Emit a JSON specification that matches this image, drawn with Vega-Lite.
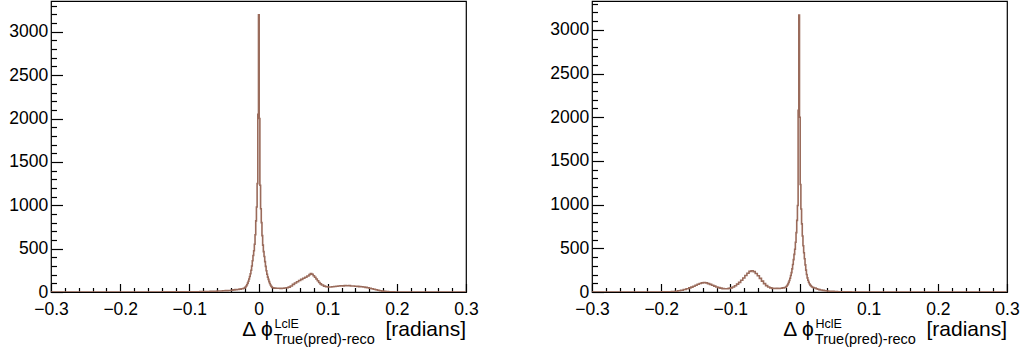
{
  "$schema": "https://vega.github.io/schema/vega-lite/v6.json",
  "usermeta": {"embedOptions": {"actions": false}},
  "autosize": {"type": "pad"},
  "padding": {"left": 8, "top": 0, "right": 0, "bottom": 0},
  "background": "white",
  "config": {
    "view": {"stroke": "black", "strokeWidth": 1.2},
    "font": "Liberation Sans",
    "text": {"font": "Liberation Sans", "color": "black"},
    "axis": {"domain": false, "grid": false, "title": null, "tickColor": "black", "tickWidth": 1.2,
             "labelFont": "Liberation Sans", "labelFontSize": 17.5, "labelColor": "black",
             "labelOverlap": false, "labelFlush": false, "labelBound": false},
    "axisX": {"labelPadding": 16.5},
    "axisY": {"labelPadding": 14.8}
  },
  "datasets": {
    "lcle": [
      {"x": -0.3, "n": 0}, {"x": -0.14, "n": 1}, {"x": -0.1, "n": 2}, {"x": -0.09, "n": 3}, {"x": -0.085, "n": 4},
      {"x": -0.08, "n": 5}, {"x": -0.075, "n": 6}, {"x": -0.07, "n": 7}, {"x": -0.065, "n": 9}, {"x": -0.06, "n": 11},
      {"x": -0.056, "n": 12}, {"x": -0.052, "n": 14}, {"x": -0.048, "n": 16}, {"x": -0.044, "n": 18}, {"x": -0.04, "n": 21},
      {"x": -0.037, "n": 24}, {"x": -0.034, "n": 27}, {"x": -0.031, "n": 29}, {"x": -0.028, "n": 33}, {"x": -0.025, "n": 38},
      {"x": -0.022, "n": 44}, {"x": -0.02, "n": 50}, {"x": -0.019, "n": 58}, {"x": -0.018, "n": 70}, {"x": -0.017, "n": 84},
      {"x": -0.016, "n": 102}, {"x": -0.015, "n": 124}, {"x": -0.014, "n": 150}, {"x": -0.013, "n": 178}, {"x": -0.012, "n": 210},
      {"x": -0.011, "n": 250}, {"x": -0.01, "n": 300}, {"x": -0.009, "n": 360}, {"x": -0.008, "n": 420}, {"x": -0.007, "n": 475},
      {"x": -0.006, "n": 550}, {"x": -0.005, "n": 660}, {"x": -0.004, "n": 820}, {"x": -0.003, "n": 980}, {"x": -0.002, "n": 1250},
      {"x": -0.001, "n": 2050}, {"x": 0, "n": 3195}, {"x": 0.001, "n": 2000}, {"x": 0.002, "n": 1230}, {"x": 0.003, "n": 960},
      {"x": 0.004, "n": 800}, {"x": 0.005, "n": 650}, {"x": 0.006, "n": 540}, {"x": 0.007, "n": 465}, {"x": 0.008, "n": 410},
      {"x": 0.009, "n": 350}, {"x": 0.01, "n": 295}, {"x": 0.011, "n": 245}, {"x": 0.012, "n": 205}, {"x": 0.013, "n": 172},
      {"x": 0.014, "n": 145}, {"x": 0.015, "n": 120}, {"x": 0.016, "n": 98}, {"x": 0.017, "n": 80}, {"x": 0.018, "n": 66},
      {"x": 0.019, "n": 56}, {"x": 0.02, "n": 49}, {"x": 0.022, "n": 45}, {"x": 0.025, "n": 43}, {"x": 0.028, "n": 44},
      {"x": 0.031, "n": 42}, {"x": 0.034, "n": 44}, {"x": 0.037, "n": 46}, {"x": 0.04, "n": 49}, {"x": 0.043, "n": 56},
      {"x": 0.046, "n": 70}, {"x": 0.049, "n": 88}, {"x": 0.052, "n": 104}, {"x": 0.055, "n": 118}, {"x": 0.058, "n": 132},
      {"x": 0.061, "n": 146}, {"x": 0.064, "n": 158}, {"x": 0.067, "n": 170}, {"x": 0.07, "n": 184}, {"x": 0.073, "n": 200},
      {"x": 0.075, "n": 212}, {"x": 0.077, "n": 204}, {"x": 0.079, "n": 188}, {"x": 0.081, "n": 170}, {"x": 0.083, "n": 150},
      {"x": 0.085, "n": 130}, {"x": 0.087, "n": 110}, {"x": 0.089, "n": 94}, {"x": 0.091, "n": 80}, {"x": 0.094, "n": 68},
      {"x": 0.097, "n": 60}, {"x": 0.1, "n": 57}, {"x": 0.103, "n": 58}, {"x": 0.106, "n": 60}, {"x": 0.109, "n": 63},
      {"x": 0.112, "n": 66}, {"x": 0.115, "n": 69}, {"x": 0.118, "n": 72}, {"x": 0.121, "n": 71}, {"x": 0.124, "n": 74},
      {"x": 0.127, "n": 72}, {"x": 0.13, "n": 73}, {"x": 0.133, "n": 70}, {"x": 0.136, "n": 70}, {"x": 0.139, "n": 67},
      {"x": 0.142, "n": 65}, {"x": 0.145, "n": 62}, {"x": 0.148, "n": 60}, {"x": 0.151, "n": 57}, {"x": 0.154, "n": 53},
      {"x": 0.157, "n": 49}, {"x": 0.16, "n": 44}, {"x": 0.163, "n": 38}, {"x": 0.166, "n": 32}, {"x": 0.169, "n": 26},
      {"x": 0.172, "n": 20}, {"x": 0.175, "n": 15}, {"x": 0.178, "n": 10}, {"x": 0.181, "n": 7}, {"x": 0.184, "n": 5},
      {"x": 0.188, "n": 3}, {"x": 0.192, "n": 1}, {"x": 0.197, "n": 0}, {"x": 0.3, "n": 0}
    ],
    "hcle": [
      {"x": -0.3, "n": 0}, {"x": -0.2, "n": 1}, {"x": -0.195, "n": 2}, {"x": -0.19, "n": 3}, {"x": -0.185, "n": 6},
      {"x": -0.18, "n": 9}, {"x": -0.176, "n": 14}, {"x": -0.172, "n": 20}, {"x": -0.168, "n": 28}, {"x": -0.164, "n": 38},
      {"x": -0.16, "n": 47}, {"x": -0.157, "n": 56}, {"x": -0.154, "n": 66}, {"x": -0.151, "n": 78}, {"x": -0.148, "n": 88},
      {"x": -0.145, "n": 97}, {"x": -0.142, "n": 104}, {"x": -0.139, "n": 108}, {"x": -0.136, "n": 104}, {"x": -0.133, "n": 96},
      {"x": -0.13, "n": 87}, {"x": -0.127, "n": 77}, {"x": -0.124, "n": 67}, {"x": -0.121, "n": 58}, {"x": -0.118, "n": 50},
      {"x": -0.115, "n": 44}, {"x": -0.112, "n": 39}, {"x": -0.109, "n": 37}, {"x": -0.106, "n": 38}, {"x": -0.103, "n": 41},
      {"x": -0.1, "n": 47}, {"x": -0.097, "n": 58}, {"x": -0.094, "n": 72}, {"x": -0.091, "n": 90}, {"x": -0.088, "n": 110},
      {"x": -0.085, "n": 134}, {"x": -0.082, "n": 160}, {"x": -0.079, "n": 188}, {"x": -0.076, "n": 214}, {"x": -0.073, "n": 236},
      {"x": -0.07, "n": 244}, {"x": -0.067, "n": 233}, {"x": -0.064, "n": 212}, {"x": -0.061, "n": 186}, {"x": -0.058, "n": 156},
      {"x": -0.055, "n": 125}, {"x": -0.052, "n": 96}, {"x": -0.049, "n": 73}, {"x": -0.046, "n": 57}, {"x": -0.043, "n": 47},
      {"x": -0.04, "n": 42}, {"x": -0.037, "n": 40}, {"x": -0.034, "n": 41}, {"x": -0.031, "n": 40}, {"x": -0.028, "n": 43},
      {"x": -0.025, "n": 47}, {"x": -0.022, "n": 52}, {"x": -0.02, "n": 58}, {"x": -0.019, "n": 66}, {"x": -0.018, "n": 78},
      {"x": -0.017, "n": 92}, {"x": -0.016, "n": 110}, {"x": -0.015, "n": 132}, {"x": -0.014, "n": 158}, {"x": -0.013, "n": 188},
      {"x": -0.012, "n": 222}, {"x": -0.011, "n": 265}, {"x": -0.01, "n": 315}, {"x": -0.009, "n": 370}, {"x": -0.008, "n": 430},
      {"x": -0.007, "n": 490}, {"x": -0.006, "n": 570}, {"x": -0.005, "n": 680}, {"x": -0.004, "n": 820}, {"x": -0.003, "n": 990},
      {"x": -0.002, "n": 2080}, {"x": -0.001, "n": 3170}, {"x": 0, "n": 2000}, {"x": 0.001, "n": 1230}, {"x": 0.002, "n": 950},
      {"x": 0.003, "n": 780}, {"x": 0.004, "n": 640}, {"x": 0.005, "n": 530}, {"x": 0.006, "n": 450}, {"x": 0.007, "n": 380},
      {"x": 0.008, "n": 310}, {"x": 0.009, "n": 250}, {"x": 0.01, "n": 200}, {"x": 0.011, "n": 162}, {"x": 0.012, "n": 134},
      {"x": 0.013, "n": 112}, {"x": 0.014, "n": 95}, {"x": 0.015, "n": 82}, {"x": 0.016, "n": 71}, {"x": 0.017, "n": 63},
      {"x": 0.018, "n": 57}, {"x": 0.019, "n": 52}, {"x": 0.021, "n": 45}, {"x": 0.024, "n": 38}, {"x": 0.026, "n": 32},
      {"x": 0.028, "n": 27}, {"x": 0.03, "n": 23}, {"x": 0.033, "n": 19}, {"x": 0.036, "n": 15}, {"x": 0.039, "n": 12},
      {"x": 0.042, "n": 9}, {"x": 0.046, "n": 7}, {"x": 0.05, "n": 5}, {"x": 0.055, "n": 3}, {"x": 0.06, "n": 2},
      {"x": 0.066, "n": 1}, {"x": 0.075, "n": 0}, {"x": 0.3, "n": 0}
    ]
  },
  "spacing": 126,
  "bounds": "flush",
  "hconcat": [
    {
      "width": 415,
      "height": 291,
      "resolve": {"axis": {"x": "independent", "y": "independent"}},
      "layer": [
        {
          "data": {"name": "lcle"},
          "mark": {"type": "line", "interpolate": "step-after", "color": "#9a6b5b", "strokeWidth": 1.6, "clip": true},
          "encoding": {
            "x": {"field": "x", "type": "quantitative",
              "scale": {"domain": [-0.3, 0.3], "nice": false, "zero": false},
              "axis": {"orient": "bottom", "values": [-0.3,-0.2,-0.1,0,0.1,0.2,0.3], "format": ".1~f", "tickSize": -8.5}},
            "y": {"field": "n", "type": "quantitative",
              "scale": {"domain": [0, 3355], "nice": false},
              "axis": {"orient": "left", "values": [0,500,1000,1500,2000,2500,3000], "format": "d", "tickSize": -11.5}}
          }
        },
        {
          "data": {"name": "lcle"},
          "mark": {"type": "line", "interpolate": "step-after", "strokeOpacity": 0, "clip": true},
          "encoding": {
            "x": {"field": "x", "type": "quantitative",
              "axis": {"orient": "bottom", "labels": false, "tickSize": -4.5,
                "values": [-0.28,-0.26,-0.24,-0.22,-0.18,-0.16,-0.14,-0.12,-0.08,-0.06,-0.04,-0.02,0.02,0.04,0.06,0.08,0.12,0.14,0.16,0.18,0.22,0.24,0.26,0.28]}},
            "y": {"field": "n", "type": "quantitative",
              "axis": {"orient": "left", "labels": false, "tickSize": -5.5,
                "values": [100,200,300,400,600,700,800,900,1100,1200,1300,1400,1600,1700,1800,1900,2100,2200,2300,2400,2600,2700,2800,2900,3100,3200,3300]}}
          }
        },
        {
          "data": {"values": [{}]},
          "mark": {"type": "text", "text": "Δ ϕ", "align": "left", "baseline": "alphabetic", "fontSize": 21, "dy": 44},
          "encoding": {"x": {"datum": -0.0235, "axis": null}, "y": {"datum": 0, "axis": null}}
        },
        {
          "data": {"values": [{}]},
          "mark": {"type": "text", "text": "LclE", "align": "left", "baseline": "alphabetic", "fontSize": 12.5, "dy": 36.4},
          "encoding": {"x": {"datum": 0.0232, "axis": null}, "y": {"datum": 0, "axis": null}}
        },
        {
          "data": {"values": [{}]},
          "mark": {"type": "text", "text": "True(pred)-reco", "align": "left", "baseline": "alphabetic", "fontSize": 14.5, "dy": 52.4},
          "encoding": {"x": {"datum": 0.0222, "axis": null}, "y": {"datum": 0, "axis": null}}
        },
        {
          "data": {"values": [{}]},
          "mark": {"type": "text", "text": "[radians]", "align": "right", "baseline": "alphabetic", "fontSize": 21, "dy": 44},
          "encoding": {"x": {"datum": 0.3, "axis": null}, "y": {"datum": 0, "axis": null}}
        }
      ]
    },
    {
      "width": 415,
      "height": 291,
      "resolve": {"axis": {"x": "independent", "y": "independent"}},
      "layer": [
        {
          "data": {"name": "hcle"},
          "mark": {"type": "line", "interpolate": "step-after", "color": "#9a6b5b", "strokeWidth": 1.6, "clip": true},
          "encoding": {
            "x": {"field": "x", "type": "quantitative",
              "scale": {"domain": [-0.3, 0.3], "nice": false, "zero": false},
              "axis": {"orient": "bottom", "values": [-0.3,-0.2,-0.1,0,0.1,0.2,0.3], "format": ".1~f", "tickSize": -8.5}},
            "y": {"field": "n", "type": "quantitative",
              "scale": {"domain": [0, 3330], "nice": false},
              "axis": {"orient": "left", "values": [0,500,1000,1500,2000,2500,3000], "format": "d", "tickSize": -11.5}}
          }
        },
        {
          "data": {"name": "hcle"},
          "mark": {"type": "line", "interpolate": "step-after", "strokeOpacity": 0, "clip": true},
          "encoding": {
            "x": {"field": "x", "type": "quantitative",
              "axis": {"orient": "bottom", "labels": false, "tickSize": -4.5,
                "values": [-0.28,-0.26,-0.24,-0.22,-0.18,-0.16,-0.14,-0.12,-0.08,-0.06,-0.04,-0.02,0.02,0.04,0.06,0.08,0.12,0.14,0.16,0.18,0.22,0.24,0.26,0.28]}},
            "y": {"field": "n", "type": "quantitative",
              "axis": {"orient": "left", "labels": false, "tickSize": -5.5,
                "values": [100,200,300,400,600,700,800,900,1100,1200,1300,1400,1600,1700,1800,1900,2100,2200,2300,2400,2600,2700,2800,2900,3100,3200,3300]}}
          }
        },
        {
          "data": {"values": [{}]},
          "mark": {"type": "text", "text": "Δ ϕ", "align": "left", "baseline": "alphabetic", "fontSize": 21, "dy": 44},
          "encoding": {"x": {"datum": -0.0235, "axis": null}, "y": {"datum": 0, "axis": null}}
        },
        {
          "data": {"values": [{}]},
          "mark": {"type": "text", "text": "HclE", "align": "left", "baseline": "alphabetic", "fontSize": 12.5, "dy": 36.4},
          "encoding": {"x": {"datum": 0.0232, "axis": null}, "y": {"datum": 0, "axis": null}}
        },
        {
          "data": {"values": [{}]},
          "mark": {"type": "text", "text": "True(pred)-reco", "align": "left", "baseline": "alphabetic", "fontSize": 14.5, "dy": 52.4},
          "encoding": {"x": {"datum": 0.0222, "axis": null}, "y": {"datum": 0, "axis": null}}
        },
        {
          "data": {"values": [{}]},
          "mark": {"type": "text", "text": "[radians]", "align": "right", "baseline": "alphabetic", "fontSize": 21, "dy": 44},
          "encoding": {"x": {"datum": 0.3, "axis": null}, "y": {"datum": 0, "axis": null}}
        }
      ]
    }
  ]
}
